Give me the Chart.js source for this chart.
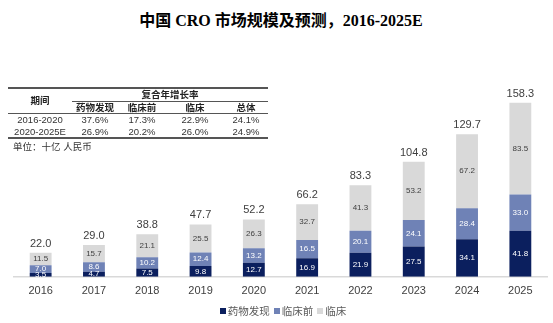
<!DOCTYPE html>
<html>
<head>
<meta charset="utf-8">
<script src="https://cdn.jsdelivr.net/npm/chart.js@4"></script>
<style>
  body { margin: 0; width: 553px; height: 323px; background: #fff; position: relative; overflow: hidden;
         font-family: "Liberation Sans", "Noto Sans CJK SC", sans-serif; }
  #titulo { position: absolute; left: 0; width: 562px; top: 7px; text-align: center;
            font: bold 16px "Liberation Serif", "Noto Sans CJK SC", serif; color: #000; }
  #wrap { position: absolute; left: 0; top: 0; width: 553px; height: 308px; }
  table { position: absolute; left: 8px; top: 87px; width: 260px; border-collapse: collapse; table-layout: fixed;
          font-size: 9.5px; color: #333; }
  th, td { text-align: center; padding: 0; line-height: 11.5px; white-space: nowrap; }
  th { font-weight: bold; color: #222; }
  #unidad { position: absolute; left: 13px; top: 139px; font-size: 9.5px; color: #333; }
  #leyenda { position: absolute; left: 0; width: 566px; top: 303px; display: flex; justify-content: center;
             font: 10.5px "Noto Sans CJK SC", sans-serif; color: #595959; }
  #leyenda span { display: flex; align-items: center; margin: 0 2px; }
  #leyenda i { display: inline-block; width: 6px; height: 6px; margin-right: 2px; }
</style>
</head>
<body>
<div id="titulo">中国 CRO 市场规模及预测，2016-2025E</div>
<div id="wrap"><canvas id="grafico"></canvas></div>
<table>
  <colgroup><col style="width:64px"><col style="width:46px"><col style="width:48px"><col style="width:58px"><col style="width:44px"></colgroup>
  <tr style="border-top:2px solid #555">
    <th rowspan="2" style="vertical-align:middle">期间</th>
    <th colspan="4" style="border-bottom:1.5px solid #555">复合年增长率</th>
  </tr>
  <tr style="border-bottom:1px solid #555">
    <th>药物发现</th><th>临床前</th><th>临床</th><th>总体</th>
  </tr>
  <tr><td>2016-2020</td><td>37.6%</td><td>17.3%</td><td>22.9%</td><td>24.1%</td></tr>
  <tr style="border-bottom:2px solid #555"><td>2020-2025E</td><td>26.9%</td><td>20.2%</td><td>26.0%</td><td>24.9%</td></tr>
</table>
<div id="unidad">单位：十亿 人民币</div>
<div id="leyenda"></div>
<script>
// datos (十亿 人民币)
const anios = ['2016', '2017', '2018', '2019', '2020', '2021', '2022', '2023', '2024', '2025'];
const descubrimiento = [3.5, 4.7, 7.5, 9.8, 12.7, 16.9, 21.9, 27.5, 34.1, 41.8];
const preclinico = [7.0, 8.6, 10.2, 12.4, 13.2, 16.5, 20.1, 24.1, 28.4, 33.0];
const clinico = [11.5, 15.7, 21.1, 25.5, 26.3, 32.7, 41.3, 53.2, 67.2, 83.5];
const totales = [22.0, 29.0, 38.8, 47.7, 52.2, 66.2, 83.3, 104.8, 129.7, 158.3];

// etiquetas dentro de las barras y totales encima
const etiquetas = {
    id: 'etiquetas',
    afterDatasetsDraw(chart) {
        const ctx = chart.ctx;
        ctx.save();
        ctx.textAlign = 'center';
        ctx.textBaseline = 'middle';
        chart.data.datasets.forEach((ds, i) => {
            const meta = chart.getDatasetMeta(i);
            meta.data.forEach((bar, j) => {
                ctx.font = '8px "Liberation Sans", sans-serif';
                ctx.fillStyle = i < 2 ? '#ffffff' : '#404040';
                ctx.fillText(ds.data[j].toFixed(1), bar.x, (bar.y + bar.base) / 2);
            });
        });
        const top = chart.getDatasetMeta(2);
        top.data.forEach((bar, j) => {
            ctx.font = '11px "Liberation Sans", sans-serif';
            ctx.fillStyle = '#404040';
            ctx.fillText(totales[j].toFixed(1), bar.x, bar.y - 9);
        });
        ctx.restore();
    }
};

const grafico = new Chart(document.getElementById('grafico'), {
    type: 'bar',
    data: {
        labels: anios,
        datasets: [
            { label: '药物发现', data: descubrimiento, backgroundColor: '#0b1f5e' },
            { label: '临床前', data: preclinico, backgroundColor: '#6f82b6' },
            { label: '临床', data: clinico, backgroundColor: '#d9d9d9' }
        ]
    },
    options: {
        responsive: true,
        maintainAspectRatio: false,
        animation: false,
        layout: { padding: { top: 101, left: 14, right: 6, bottom: 2 } },
        datasets: { bar: { categoryPercentage: 1, barPercentage: 0.41 } },
        plugins: {
            legend: { display: false },
            tooltip: { enabled: false }
        },
        scales: {
            x: {
                stacked: true,
                grid: { display: false, drawTicks: false },
                border: { color: '#d9d9d9', width: 1.5 },
                ticks: { color: '#404040', font: { size: 11, family: '"Liberation Sans", sans-serif' }, padding: 8 }
            },
            y: { stacked: true, display: false, min: 0, max: 160 }
        }
    },
    plugins: [etiquetas]
});

// leyenda en HTML a partir de los datasets
document.getElementById('leyenda').innerHTML = grafico.data.datasets.map(d =>
    `<span><i style="background:${d.backgroundColor}"></i>${d.label}</span>`).join('');
</script>
</body>
</html>
